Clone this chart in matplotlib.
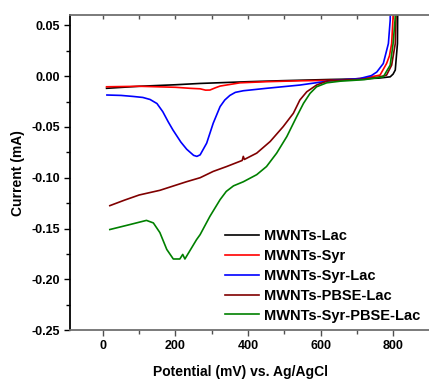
import numpy as np
import matplotlib
matplotlib.use('Agg')
import matplotlib.pyplot as plt
from matplotlib.ticker import MultipleLocator, FormatStrFormatter

plt.rcParams['font.family'] = ['Liberation Sans', 'DejaVu Sans']
plt.rcParams['font.weight'] = 'bold'
plt.rcParams['axes.unicode_minus'] = False

# potential (mV) and current (mA)
lac_x = [10, 100, 200, 268, 400, 494, 626, 700, 760, 792, 800, 806, 812, 813]
lac_y = [-0.012, -0.010, -0.0085, -0.0072, -0.0055, -0.0045, -0.0033, -0.0028, -0.002, -0.0007, 0.002, 0.006, 0.032, 0.08]

syr_x = [10, 100, 200, 240, 268, 283, 295, 310, 323, 378, 450, 543, 654, 720, 764, 782, 790, 796, 800, 801]
syr_y = [-0.0105, -0.010, -0.011, -0.012, -0.0125, -0.0138, -0.0137, -0.0115, -0.0098, -0.0066, -0.0055, -0.0046, -0.004, -0.002, 0.001, 0.0124, 0.02, 0.032, 0.058, 0.08]

syrlac_x = [11, 50, 83, 110, 130, 149, 165, 180, 193, 215, 231, 250, 259, 268, 286, 304, 323,
            336, 350, 365, 387, 451, 543, 626, 709, 740, 755, 773, 787, 792, 793]
syrlac_y = [-0.0186, -0.019, -0.020, -0.021, -0.023, -0.027, -0.035, -0.045, -0.053, -0.065, -0.072, -0.078, -0.079, -0.0775, -0.066, -0.0464, -0.030,
            -0.0235, -0.019, -0.016, -0.0144, -0.012, -0.0088, -0.0046, -0.0023, 0.0005, 0.004, 0.0124, 0.032, 0.055, 0.08]

pbse_x = [19, 60, 100, 157, 230, 268, 304, 341, 384, 387, 390, 424, 461, 497, 525, 543, 562,
          589, 620, 654, 720, 760, 782, 796, 806, 808, 809]
pbse_y = [-0.1275, -0.122, -0.117, -0.1124, -0.104, -0.100, -0.0938, -0.089, -0.083, -0.079, -0.082, -0.0758, -0.0644, -0.0497, -0.0366, -0.0235, -0.0154,
          -0.0088, -0.0046, -0.004, -0.003, -0.001, 0.001, 0.0108, 0.032, 0.058, 0.08]

all_x = [19, 70, 120, 139, 157, 176, 194, 212, 220, 226, 258, 268, 295, 323, 340, 360, 387, 424, 451,
         479, 507, 534, 553, 571, 589, 617, 654, 720, 773, 792, 800, 806, 807]
all_y = [-0.151, -0.1465, -0.142, -0.1445, -0.154, -0.1706, -0.180, -0.180, -0.1755, -0.180, -0.161, -0.156, -0.138, -0.1216, -0.1135, -0.108, -0.104, -0.097, -0.089,
         -0.0758, -0.0595, -0.040, -0.0268, -0.017, -0.0105, -0.0066, -0.005, -0.0035, -0.0007, 0.0108, 0.032, 0.058, 0.08]

series = [
    ('MWNTs-Lac', lac_x, lac_y, 'black'),
    ('MWNTs-Syr', syr_x, syr_y, 'red'),
    ('MWNTs-Syr-Lac', syrlac_x, syrlac_y, 'blue'),
    ('MWNTs-PBSE-Lac', pbse_x, pbse_y, '#800000'),
    ('MWNTs-Syr-PBSE-Lac', all_x, all_y, '#008000'),
]

fig = plt.figure(figsize=(4.29, 3.79), dpi=100)
ax = fig.add_axes([0.163, 0.129, 0.837, 0.831])

for name, xs, ys, col in series:
    ax.plot(xs, ys, color=col, lw=1.2, label=name)

ax.set_xlim(-91, 899)
ax.set_ylim(-0.25, 0.06)

ax.xaxis.set_major_locator(MultipleLocator(200))
ax.xaxis.set_minor_locator(MultipleLocator(100))
ax.yaxis.set_major_locator(MultipleLocator(0.05))
ax.yaxis.set_minor_locator(MultipleLocator(0.025))
ax.yaxis.set_major_formatter(FormatStrFormatter('%.2f'))

ax.spines['right'].set_visible(False)
ax.spines['top'].set_color('#707070')
ax.spines['bottom'].set_color('#707070')
ax.spines['left'].set_color('black')
for s in ax.spines.values():
    s.set_linewidth(1.3)

ax.tick_params(axis='both', which='major', labelsize=9, length=4, width=1, pad=3)
ax.tick_params(axis='both', which='minor', length=3, width=1)
ax.tick_params(axis='x', which='both', direction='out', color='#505050')
ax.tick_params(axis='y', which='both', right=False, direction='out')

# inward ticks along the top edge
top = ax.secondary_xaxis('top')
top.xaxis.set_major_locator(MultipleLocator(100))
top.tick_params(direction='in', length=3, width=1, color='#505050', labeltop=False)
top.spines['top'].set_visible(False)

ax.set_xlabel('Potential (mV) vs. Ag/AgCl', fontsize=10, fontweight='bold')
ax.set_ylabel('Current (mA)', fontsize=10, fontweight='bold')
ax.xaxis.set_label_coords(0.474, -0.11)
ax.yaxis.set_label_coords(-0.125, 0.5)

leg = fig.legend(loc='center', bbox_to_anchor=(0.752, 0.272), frameon=False,
                 prop={'size': 10.5, 'weight': 'bold'}, handlelength=2.3,
                 handletextpad=0.35, labelspacing=0.4)

fig.savefig('out.png', dpi=100)
